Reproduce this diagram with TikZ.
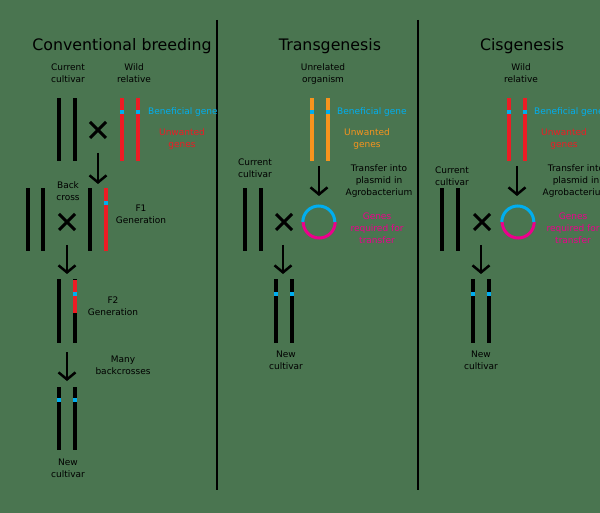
\documentclass[tikz,border=0pt]{standalone}
\usepackage{fontspec}
\setmainfont{DejaVu Sans}
\usetikzlibrary{arrows.meta,shapes.misc}
\definecolor{bggreen}{RGB}{74,117,80}
\definecolor{genered}{RGB}{237,28,36}
\definecolor{geneorange}{RGB}{247,148,29}
\definecolor{genecyan}{RGB}{0,174,239}
\definecolor{genepink}{RGB}{236,0,140}
\begin{document}
\begin{tikzpicture}[x=1pt,y=-1pt,
  chrom/.style={rectangle,fill=black,inner sep=0pt,minimum width=4.5pt,minimum height=63pt},
  genemark/.style={rectangle,fill=genecyan,inner sep=0pt,minimum width=4.5pt,minimum height=4pt},
  crossnode/.style={cross out,draw=black,line width=3pt,minimum size=13pt,inner sep=0pt},
  plasmid/.style={circle,inner sep=0pt,minimum size=32pt},
  stepto/.style={-{Straight Barb[length=7pt,width=17pt]},line width=2.5pt},
  lbl/.style={font=\fontsize{9}{11.8}\selectfont,align=center,inner sep=0pt},
  heading/.style={font=\fontsize{15.8}{18}\selectfont,inner sep=0pt}]
  \useasboundingbox (0,0) rectangle (600,513);
  \clip (0,0) rectangle (600,513);
  \fill[bggreen] (0,0) rectangle (600,513);
  \draw[line width=2pt] (217,20) -- (217,490);
  \draw[line width=2pt] (418,20) -- (418,490);

  % conventional breeding
  \node[heading] (title1) at (122,46) {Conventional breeding};
  \node[lbl] (cur1) at (68,73) {Current\\cultivar};
  \node[lbl] (wild1) at (134,73) {Wild\\relative};
  \node[chrom] (cc1a) at (59,130) {};
  \node[chrom] (cc1b) at (75,130) {};
  \node[crossnode] (x1) at (98,130) {};
  \node[chrom,fill=genered] (wr1a) at (122,130) {};
  \node[chrom,fill=genered] (wr1b) at (138,130) {};
  \node[genemark] (g1a) at (122,112) {};
  \node[genemark] (g1b) at (138,112) {};
  \node[lbl,text=genecyan,anchor=west] (ben1) at (148,112) {Beneficial gene};
  \node[lbl,text=genered] (unw1) at (182,139) {Unwanted\\genes};
  \coordinate (a1s) at (98,153);
  \coordinate (a1e) at (98,184);
  \draw[stepto] (a1s) -- (a1e);

  \node[lbl] (back1) at (68,191) {Back\\cross};
  \node[chrom] (bc1a) at (28,220) {};
  \node[chrom] (bc1b) at (43,220) {};
  \node[crossnode] (x2) at (67,222) {};
  \node[chrom] (f1a) at (90,220) {};
  \node[chrom,fill=genered] (f1b) at (106,220) {};
  \node[genemark] (g2) at (106,203) {};
  \node[lbl] (f1lbl) at (141,214) {F1\\Generation};
  \coordinate (a2s) at (67,245);
  \coordinate (a2e) at (67,274);
  \draw[stepto] (a2s) -- (a2e);

  \node[chrom] (f2a) at (59,311) {};
  \node[chrom] (f2b) at (75,311) {};
  \node[chrom,fill=genered,minimum height=33pt,anchor=north] (f2r) at (75,279.5) {};
  \node[genemark] (g3) at (75,294) {};
  \node[lbl] (f2lbl) at (113,306) {F2\\Generation};
  \coordinate (a3s) at (67,352);
  \coordinate (a3e) at (67,381);
  \draw[stepto] (a3s) -- (a3e);
  \node[lbl] (many1) at (123,365) {Many\\backcrosses};

  \node[chrom] (nc1a) at (59,418) {};
  \node[chrom] (nc1b) at (75,418) {};
  \node[genemark] (g4a) at (59,400) {};
  \node[genemark] (g4b) at (75,400) {};
  \node[lbl] (new1) at (68,468) {New\\cultivar};

  % transgenesis
  \node[heading] (title2) at (330,46) {Transgenesis};
  \node[lbl] (unrel2) at (323,74) {Unrelated\\organism};
  \node[chrom,fill=geneorange] (uo2a) at (312,130) {};
  \node[chrom,fill=geneorange] (uo2b) at (328,130) {};
  \node[genemark] (g5a) at (312,112) {};
  \node[genemark] (g5b) at (328,112) {};
  \node[lbl,text=genecyan,anchor=west] (ben2) at (337,112) {Beneficial gene};
  \node[lbl,text=geneorange] (unw2) at (367,139) {Unwanted\\genes};
  \coordinate (a4s) at (319,166);
  \coordinate (a4e) at (319,196);
  \draw[stepto] (a4s) -- (a4e);
  \node[lbl] (trans2) at (379,181) {Transfer into\\plasmid in\\Agrobacterium};
  \node[lbl] (cur2) at (255,168) {Current\\cultivar};
  \node[chrom] (cc2a) at (245,220) {};
  \node[chrom] (cc2b) at (261,220) {};
  \node[crossnode] (x3) at (284,222) {};
  \node[plasmid] (p2) at (319,222) {};
  \draw[genepink,line width=3pt] (p2.east) arc (0:180:16);
  \draw[genecyan,line width=3pt] (p2.west) arc (180:360:16);
  \node[lbl,text=genepink] (req2) at (377,228) {Genes\\required for\\transfer};
  \coordinate (a5s) at (283,245);
  \coordinate (a5e) at (283,274);
  \draw[stepto] (a5s) -- (a5e);
  \node[chrom] (nc2a) at (276,311) {};
  \node[chrom] (nc2b) at (292,311) {};
  \node[genemark] (g6a) at (276,294) {};
  \node[genemark] (g6b) at (292,294) {};
  \node[lbl] (new2) at (286,360) {New\\cultivar};

  % cisgenesis
  \node[heading] (title3) at (522,46) {Cisgenesis};
  \node[lbl] (wild3) at (521,73) {Wild\\relative};
  \node[chrom,fill=genered] (wr3a) at (509,130) {};
  \node[chrom,fill=genered] (wr3b) at (525,130) {};
  \node[genemark] (g7a) at (509,112) {};
  \node[genemark] (g7b) at (525,112) {};
  \node[lbl,text=genecyan,anchor=west] (ben3) at (534,112) {Beneficial gene};
  \node[lbl,text=genered] (unw3) at (564,139) {Unwanted\\genes};
  \coordinate (a6s) at (517,166);
  \coordinate (a6e) at (517,196);
  \draw[stepto] (a6s) -- (a6e);
  \node[lbl] (trans3) at (576,181) {Transfer into\\plasmid in\\Agrobacterium};
  \node[lbl] (cur3) at (452,176) {Current\\cultivar};
  \node[chrom] (cc3a) at (442,220) {};
  \node[chrom] (cc3b) at (458,220) {};
  \node[crossnode] (x4) at (482,222) {};
  \node[plasmid] (p3) at (518,222) {};
  \draw[genepink,line width=3pt] (p3.east) arc (0:180:16);
  \draw[genecyan,line width=3pt] (p3.west) arc (180:360:16);
  \node[lbl,text=genepink] (req3) at (573,228) {Genes\\required for\\transfer};
  \coordinate (a7s) at (481,245);
  \coordinate (a7e) at (481,274);
  \draw[stepto] (a7s) -- (a7e);
  \node[chrom] (nc3a) at (473,311) {};
  \node[chrom] (nc3b) at (489,311) {};
  \node[genemark] (g8a) at (473,294) {};
  \node[genemark] (g8b) at (489,294) {};
  \node[lbl] (new3) at (481,360) {New\\cultivar};
\end{tikzpicture}
\end{document}
